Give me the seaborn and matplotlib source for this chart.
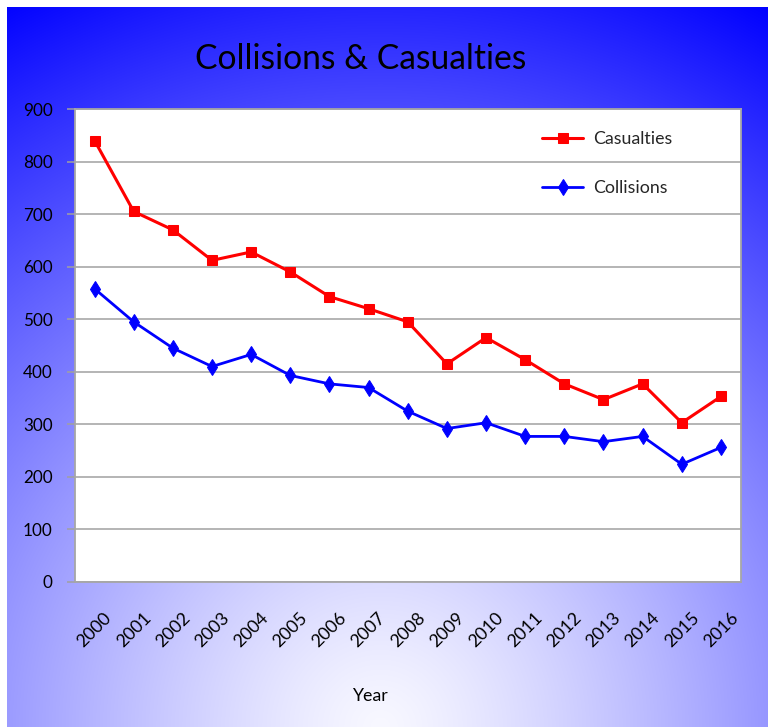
import matplotlib

matplotlib.use("Agg")
import matplotlib.pyplot as plt
import numpy as np
import pandas as pd
import seaborn as sns
from matplotlib import font_manager

years = list(range(2000, 2017))
casualties = [840, 705, 670, 612, 628, 590, 543, 520, 495, 415, 465, 423, 377, 347, 377, 303, 353]
collisions = [558, 495, 445, 410, 433, 393, 377, 370, 325, 292, 303, 277, 277, 267, 277, 224, 256]
y_ticks = [0, 100, 200, 300, 400, 500, 600, 700, 800, 900]

sns.set_theme(style="white")
names = {f.name for f in font_manager.fontManager.ttflist}
if "Liberation Sans Narrow" in names:
    FONT, K = "Liberation Sans Narrow", 1.0
else:
    FONT, K = "Lato", 0.88
plt.rcParams["font.family"] = [FONT, "DejaVu Sans"]

W, H = 768, 727
fig = plt.figure(figsize=(W / 100, H / 100), dpi=100)

# radial blue -> white background, lightest at bottom centre
yy, xx = np.mgrid[0:H, 0:W]
d = np.hypot(xx - 380, yy - 727)
light = 248 * (1 - np.clip(d / 820, 0, 1) ** 1.25)
img = np.dstack([light, light, np.full_like(light, 255)]) / 255
img[:7, :, :] = 1
img[:, :7, :] = 1
bg = fig.add_axes([0, 0, 1, 1], zorder=0)
bg.imshow(img, aspect="auto", interpolation="bilinear")
bg.axis("off")

ax = fig.add_axes([75 / W, 1 - 582 / H, 665.5 / W, 473 / H], zorder=1)
ax.set_facecolor("white")

df = pd.DataFrame({"Year": years, "Casualties": casualties, "Collisions": collisions})
sns.lineplot(data=df, x="Year", y="Casualties", color="#FF0000", lw=2.2,
             marker="s", ms=7, mec="#FF0000", label="Casualties", ax=ax)
sns.lineplot(data=df, x="Year", y="Collisions", color="#0000FF", lw=2.0,
             marker="d", ms=8.5, mec="#0000FF", label="Collisions", ax=ax)

ax.set_xlim(1999.5, 2016.5)
ax.set_ylim(0, 900)
ax.set_yticks(y_ticks)
ax.set_xticks(years)
ax.set_xticklabels([str(y) for y in years], rotation=45, ha="center", va="top")
ax.set_xlabel("")
ax.set_ylabel("")

ax.yaxis.grid(True, color="#A0A0A0", lw=1.1)
ax.xaxis.grid(False)
ax.set_axisbelow(True)
for s in ax.spines.values():
    s.set_visible(True)
    s.set_color("#A6A6A6")
    s.set_linewidth(1.3)

ax.tick_params(axis="y", left=True, length=6, width=1.1, color="#A0A0A0",
               pad=10, labelsize=14 * K, labelcolor="black")
ax.tick_params(axis="x", bottom=False, length=0, pad=20,
               labelsize=14.5 * K, labelcolor="black")

h, l = ax.get_legend_handles_labels()
ax.legend(h, l, loc="upper left", bbox_to_anchor=(0.702, 0.953), frameon=False,
          borderpad=0, borderaxespad=0, handlelength=2.3, handletextpad=0.6,
          labelspacing=1.85, fontsize=14.5 * K, numpoints=1)

fig.text(361 / W, 1 - 59 / H, "Collisions & Casualties", ha="center", va="center",
         fontsize=27.5 * K, color="black")
fig.text(370 / W, 1 - 696 / H, "Year", ha="center", va="center",
         fontsize=14.5 * K, color="black")

fig.savefig("out.png", dpi=100)
